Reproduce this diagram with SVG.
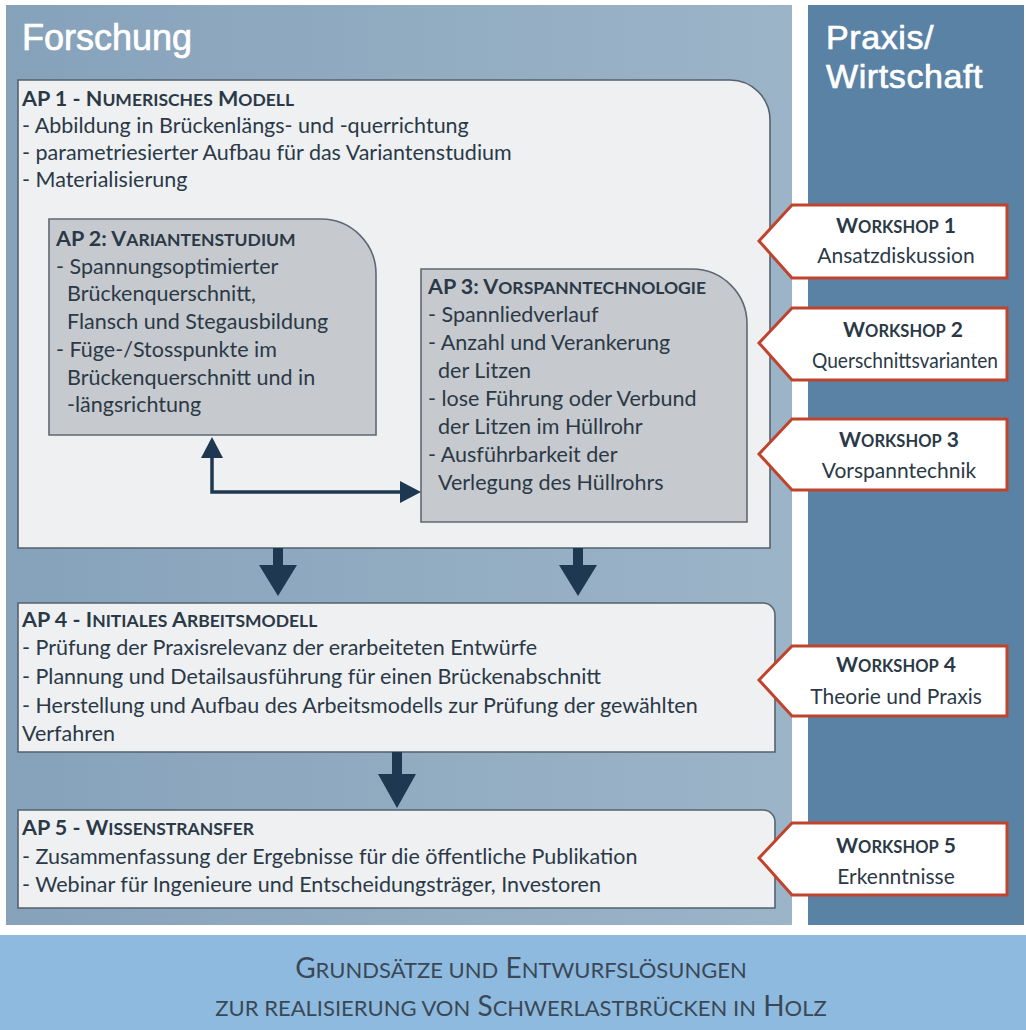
<svg xmlns="http://www.w3.org/2000/svg" width="1026" height="1030" viewBox="0 0 1026 1030">
<defs>
<linearGradient id="gF" x1="0" y1="0" x2="1" y2="0">
<stop offset="0" stop-color="#86a2ba"/>
<stop offset="1" stop-color="#9cb4c8"/>
</linearGradient>
<style>
.t{font-family:Lato,"Open Sans","DejaVu Sans",sans-serif;font-size:21.5px;fill:#2b3947}
.h{font-weight:bold}
.sc{font-size:17.5px}
.wsc{font-size:16.5px}
.ttl{font-family:"Liberation Sans",Arial,sans-serif;font-size:34px;letter-spacing:0.6px;fill:#ffffff;stroke:#ffffff;stroke-width:0.7}
.box{fill:#eef0f2;stroke:#56626e;stroke-width:1.6}
.gbox{fill:#c6c9cd;stroke:#5f6873;stroke-width:1.6}
.ws{fill:#ffffff;stroke:#bf432d;stroke-width:3}
.wt{font-family:Lato,"Open Sans",sans-serif;font-size:21px;fill:#2b3947;text-anchor:middle}
.arr{fill:#1d3850}
.ban{font-family:Lato,"Open Sans",sans-serif;font-size:28px;fill:#3a4856;text-anchor:middle}
.bsc{font-size:22px}
</style>
</defs>
<rect x="0" y="0" width="1026" height="1030" fill="#ffffff"/>
<g id="panel-forschung">
<rect x="6" y="5" width="786" height="920" fill="url(#gF)"/>
<text class="ttl" x="22" y="50" style="font-size:36px;letter-spacing:0">Forschung</text>
</g>
<g id="panel-praxis">
<rect x="808" y="5" width="216" height="920" fill="#5a82a4"/>
<text class="ttl" x="826" y="49">Praxis/</text>
<text class="ttl" x="826" y="88">Wirtschaft</text>
</g>
<g id="banner">
<rect x="0" y="935" width="1026" height="95" fill="#8fbadf"/>
<text class="ban" x="521" y="978">G<tspan class="bsc">RUNDSÄTZE UND</tspan> E<tspan class="bsc">NTWURFSLÖSUNGEN</tspan></text>
<text class="ban" x="521" y="1016"><tspan class="bsc">ZUR REALISIERUNG VON</tspan> S<tspan class="bsc">CHWERLASTBRÜCKEN IN</tspan> H<tspan class="bsc">OLZ</tspan></text>
</g>
<g id="ap1">
<path class="box" d="M18,80 H730 A40,40 0 0 1 770,120 V548 H18 Z"/>
<text class="t h" x="22" y="106">AP 1 - N<tspan class="sc">UMERISCHES</tspan> M<tspan class="sc">ODELL</tspan></text>
<text class="t" x="22" y="133">- Abbildung in Brückenlängs- und -querrichtung</text>
<text class="t" x="22" y="160">- parametriesierter Aufbau für das Variantenstudium</text>
<text class="t" x="22" y="187">- Materialisierung</text>
</g>
<g id="ap2">
<path class="gbox" d="M49,219 H321 A55,55 0 0 1 376,274 V435 H49 Z"/>
<text class="t h" x="56" y="246">AP 2: V<tspan class="sc">ARIANTENSTUDIUM</tspan></text>
<text class="t" x="56" y="274">- Spannungsoptimierter</text>
<text class="t" x="67" y="301">Brückenquerschnitt,</text>
<text class="t" x="67" y="329">Flansch und Stegausbildung</text>
<text class="t" x="56" y="357">- Füge-/Stosspunkte im</text>
<text class="t" x="67" y="385">Brückenquerschnitt und in</text>
<text class="t" x="67" y="412">-längsrichtung</text>
</g>
<g id="ap3">
<path class="gbox" d="M421,269 H692 A55,55 0 0 1 747,324 V522 H421 Z"/>
<text class="t h" x="428" y="294">AP 3: V<tspan class="sc">ORSPANNTECHNOLOGIE</tspan></text>
<text class="t" x="428" y="322">- Spannliedverlauf</text>
<text class="t" x="428" y="350">- Anzahl und Verankerung</text>
<text class="t" x="438" y="378">der Litzen</text>
<text class="t" x="428" y="406">- lose Führung oder Verbund</text>
<text class="t" x="438" y="434">der Litzen im Hüllrohr</text>
<text class="t" x="428" y="462">- Ausführbarkeit der</text>
<text class="t" x="438" y="490">Verlegung des Hüllrohrs</text>
</g>
<g id="ap4">
<path class="box" d="M18,603 H763 A12,12 0 0 1 775,615 V752 H18 Z"/>
<text class="t h" x="22" y="627">AP 4 - I<tspan class="sc">NITIALES</tspan> A<tspan class="sc">RBEITSMODELL</tspan></text>
<text class="t" x="22" y="655">- Prüfung der Praxisrelevanz der erarbeiteten  Entwürfe</text>
<text class="t" x="22" y="684">- Plannung und Detailsausführung für einen Brückenabschnitt</text>
<text class="t" x="22" y="713">- Herstellung und Aufbau des Arbeitsmodells zur Prüfung der gewählten</text>
<text class="t" x="22" y="741">Verfahren</text>
</g>
<g id="ap5">
<path class="box" d="M18,810 H763 A12,12 0 0 1 775,822 V908 H18 Z"/>
<text class="t h" x="22" y="835">AP 5 - W<tspan class="sc">ISSENSTRANSFER</tspan></text>
<text class="t" x="22" y="864">- Zusammenfassung der Ergebnisse für die öffentliche Publikation</text>
<text class="t" x="22" y="892">- Webinar für Ingenieure und Entscheidungsträger, Investoren</text>
</g>
<g id="ws1">
<polygon class="ws" points="792,205 1007,205 1007,278 792,278 759,241"/>
<text class="wt h" x="896" y="233">W<tspan class="wsc">ORKSHOP</tspan> 1</text>
<text class="wt" x="896" y="263">Ansatzdiskussion</text>
</g>
<g id="ws2">
<polygon class="ws" points="792,308 1007,308 1007,380 792,380 759,343"/>
<text class="wt h" x="903" y="337">W<tspan class="wsc">ORKSHOP</tspan> 2</text>
<text class="wt" x="905" y="368" textLength="186" lengthAdjust="spacingAndGlyphs">Querschnittsvarianten</text>
</g>
<g id="ws3">
<polygon class="ws" points="792,419 1007,419 1007,490 792,490 759,454"/>
<text class="wt h" x="899" y="447">W<tspan class="wsc">ORKSHOP</tspan> 3</text>
<text class="wt" x="899" y="478">Vorspanntechnik</text>
</g>
<g id="ws4">
<polygon class="ws" points="792,646 1007,646 1007,716 792,716 759,680"/>
<text class="wt h" x="896" y="672">W<tspan class="wsc">ORKSHOP</tspan> 4</text>
<text class="wt" x="896" y="704">Theorie und Praxis</text>
</g>
<g id="ws5">
<polygon class="ws" points="792,823 1007,823 1007,895 792,895 759,858"/>
<text class="wt h" x="896" y="853">W<tspan class="wsc">ORKSHOP</tspan> 5</text>
<text class="wt" x="896" y="884">Erkenntnisse</text>
</g>
<g id="connectors">
<polyline points="212,456 212,492 402,492" fill="none" stroke="#1d3850" stroke-width="3.5"/>
<polygon class="arr" points="212,437 201,458 223,458"/>
<polygon class="arr" points="421,492 400,481 400,503"/>
<polygon class="arr" points="273,548 283,548 283,565 297,565 278,596 259,565 273,565"/>
<polygon class="arr" points="573,548 583,548 583,565 597,565 578,596 559,565 573,565"/>
<polygon class="arr" points="392,752 402,752 402,774 416,774 397,808 378,774 392,774"/>
</g>
</svg>
